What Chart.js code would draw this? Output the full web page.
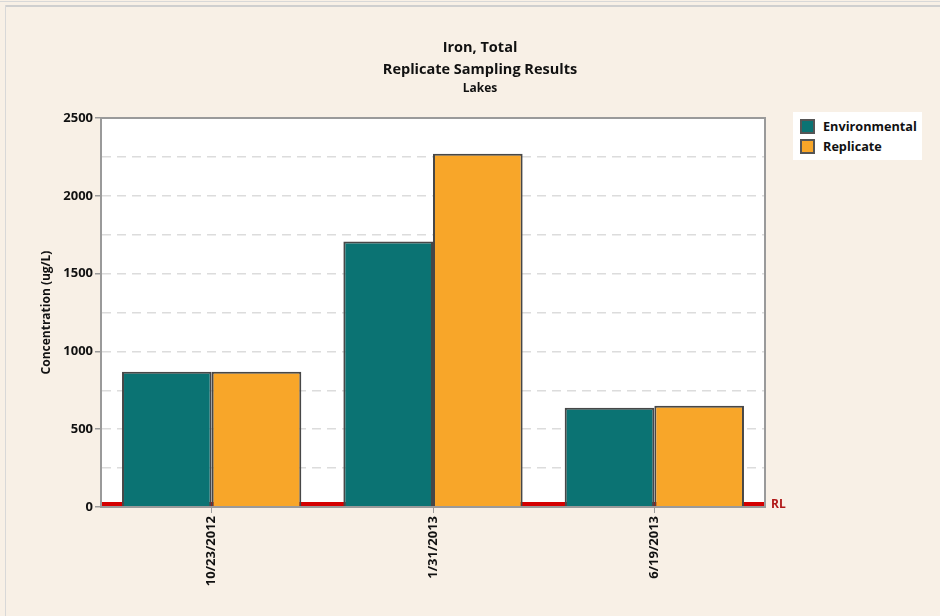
<!DOCTYPE html>
<html>
<head>
<meta charset="utf-8">
<script src="https://cdn.jsdelivr.net/npm/chart.js@4"></script>
<style>
  html, body { margin: 0; padding: 0; background: #f8f0e6; }
  #wrap { position: relative; width: 940px; height: 616px; }
  #frame { position: absolute; left: 5px; top: 5px; right: 0; height: 0;
           border-top: 2px solid #cfcfcf; }
  #frame2 { position: absolute; left: 0; top: 1px; right: 0; height: 0;
           border-top: 1px solid #d8d8d8; }
  #frameL { position: absolute; left: 5px; top: 5px; bottom: 0; width: 0;
           border-left: 1px solid #d8d8d8; }
  canvas { position: absolute; left: 0; top: 0; }
  #judul { position: absolute; left: 330px; width: 300px; top: 36px;
           text-align: center; color: #111; font-family: "Open Sans", sans-serif;
           font-weight: bold; }
  #judul .j { font-size: 14.5px; line-height: 22px; }
  #judul .s { font-size: 12px; line-height: 16px; }
  #legend { position: absolute; left: 793px; top: 112px; width: 129px;
            background: #fff; padding: 4px 0 4px 7px; box-sizing: border-box;
            font: bold 12.7px "Open Sans", sans-serif; color: #111; }
  #legend div { display: flex; align-items: center; height: 20px; }
  #legend span.sw { width: 15px; height: 15px; border: 2px solid #555;
                    box-sizing: border-box; margin-right: 8px; }
</style>
</head>
<body>
<div id="wrap">
  <div id="frame2"></div>
  <div id="frame"></div>
  <div id="frameL"></div>
  <canvas id="chartIron" width="940" height="616"></canvas>
  <div id="judul">
    <div class="j">Iron, Total</div>
    <div class="j">Replicate Sampling Results</div>
    <div class="s">Lakes</div>
  </div>
  <div id="legend"></div>
</div>
<script>
const tanggal = ['10/23/2012', '1/31/2013', '6/19/2013'];
const environmental = [870, 1707, 638];
const replicate = [870, 2270, 650];
const batasRL = 20;
const warnaSeri = ['#0b7373', '#f8a629'];
const namaSeri = ['Environmental', 'Replicate'];

// legend kanan atas
const legendEl = document.getElementById('legend');
namaSeri.forEach((nama, i) => {
    const row = document.createElement('div');
    row.innerHTML = '<span class="sw" style="background:' + warnaSeri[i] + '"></span>' + nama;
    legendEl.appendChild(row);
});

// latar putih area plot + garis batas
const areaPlot = {
    id: 'areaPlot',
    beforeDraw(chart) {
        const { ctx, chartArea: a } = chart;
        ctx.save();
        ctx.fillStyle = '#ffffff';
        ctx.fillRect(a.left, a.top, a.right - a.left, a.bottom - a.top);
        ctx.restore();
    },
    afterDraw(chart) {
        const { ctx, chartArea: a } = chart;
        ctx.save();
        ctx.strokeStyle = '#9a9a9a';
        ctx.lineWidth = 2;
        ctx.strokeRect(a.left, a.top, a.right - a.left, a.bottom - a.top);
        ctx.restore();
    }
};

// garis RL merah
const garisRL = {
    id: 'garisRL',
    beforeDatasetsDraw(chart) {
        const { ctx, chartArea: a, scales } = chart;
        const y = scales.y.getPixelForValue(batasRL);
        ctx.save();
        ctx.strokeStyle = '#d40000';
        ctx.lineWidth = 4;
        ctx.beginPath();
        ctx.moveTo(a.left, y);
        ctx.lineTo(a.right, y);
        ctx.stroke();
        ctx.fillStyle = '#b01818';
        ctx.font = 'bold 12px "Open Sans", sans-serif';
        ctx.textBaseline = 'middle';
        ctx.fillText('RL', a.right + 6, y + 1);
        ctx.restore();
    }
};

const ctx = document.getElementById('chartIron');
new Chart(ctx, {
    type: 'bar',
    data: {
        labels: tanggal,
        datasets: [{
            label: namaSeri[0],
            data: environmental,
            backgroundColor: warnaSeri[0],
            borderColor: '#474747',
            borderWidth: 2
        }, {
            label: namaSeri[1],
            data: replicate,
            backgroundColor: warnaSeri[1],
            borderColor: '#474747',
            borderWidth: 2
        }]
    },
    options: {
        responsive: false,
        animation: false,
        layout: { padding: { left: 39, right: 175, top: 118, bottom: 9 } },
        datasets: { bar: { barPercentage: 1, categoryPercentage: 0.81 } },
        plugins: {
            legend: { display: false },
            tooltip: { enabled: false }
        },
        scales: {
            x: {
                grid: { offset: false, drawOnChartArea: false, tickLength: 6, tickColor: '#9a9a9a' },
                border: { color: '#9a9a9a', width: 2 },
                ticks: {
                    minRotation: 90, maxRotation: 90, color: '#111',
                    font: { family: 'Open Sans', size: 13, weight: 'bold' }
                },
                afterFit(s) { s.height = 100; }
            },
            y: {
                min: 0, max: 2500,
                grid: {
                    color: '#dcdcdc', lineWidth: 1.5, tickLength: 6,
                    tickColor: c => (c.tick && c.tick.value % 500 === 0) ? '#9a9a9a' : 'rgba(0,0,0,0)'
                },
                border: { color: '#9a9a9a', width: 2, dash: [9, 6] },
                ticks: {
                    stepSize: 250, color: '#111', padding: 2,
                    font: { family: 'Open Sans', size: 13, weight: 'bold' },
                    callback: v => (v % 500 === 0 ? v : '')
                },
                title: {
                    display: true, text: 'Concentration (ug/L)', color: '#111',
                    font: { family: 'Open Sans', size: 12, weight: 'bold' },
                    padding: { top: 0, bottom: 0 }
                },
                afterFit(s) { s.width = 62; }
            }
        }
    },
    plugins: [areaPlot, garisRL]
});
</script>
</body>
</html>
